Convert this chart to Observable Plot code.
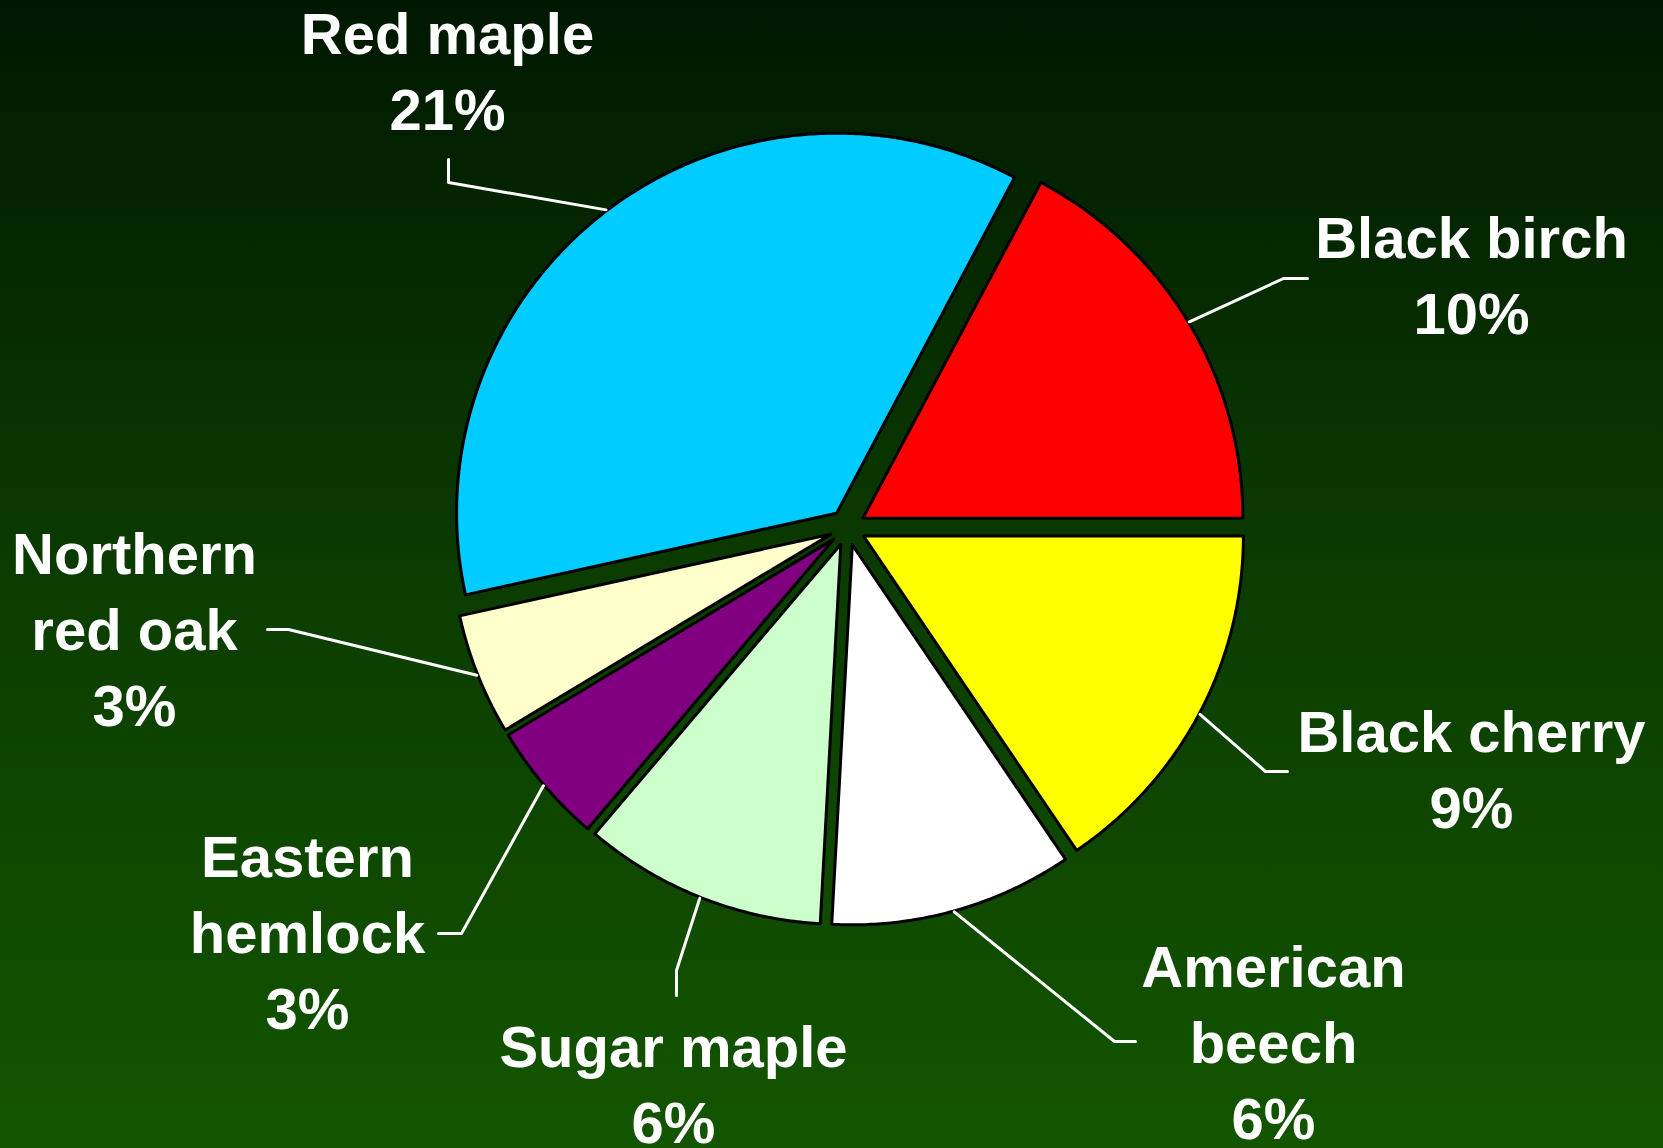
<!DOCTYPE html>
<html>
<head>
<meta charset="utf-8">
<script src="https://cdn.jsdelivr.net/npm/d3@7"></script>
<script src="https://cdn.jsdelivr.net/npm/@observablehq/plot@0.6"></script>
<style>
  html, body { margin: 0; padding: 0; overflow: hidden; background: #0a3500; }
  #chart {
    width: 1663px; height: 1148px;
    background: linear-gradient(to bottom, #001800 0%, #0b3c00 50%, #135500 100%);
  }
</style>
</head>
<body>
<div id="chart"></div>
<script>
// ---- data (clockwise from 3 o'clock) ----
const species = ["Black cherry", "American beech", "Sugar maple", "Eastern hemlock", "Northern red oak", "Red maple", "Black birch"];
const labelNames = ["Black cherry", "American\nbeech", "Sugar maple", "Eastern\nhemlock", "Northern\nred oak", "Red maple", "Black birch"];
const percents = [9, 6, 6, 3, 3, 21, 10];
const sliceColors = ["#FFFF00", "#FFFFFF", "#CCFFCC", "#800080", "#FFFFCC", "#00CCFF", "#FF0000"];

// ---- layout ----
const W = 1663, H = 1148;
const CX = 847, CY = 527, R = 380, EXPLODE = 18;
// label anchor (center x, baseline of last line) and leader elbow / end points
const labelLayout = [
  {tx: 1471, ty: 827,  elbow: [1265, 771], end: [1287, 771]},
  {tx: 1273, ty: 1138, elbow: [1114, 1041], end: [1135, 1041]},
  {tx: 673,  ty: 1142, elbow: [676, 970],  end: [676, 995]},
  {tx: 307,  ty: 1028, elbow: [461, 933],  end: [438, 933]},
  {tx: 134,  ty: 725,  elbow: [288, 629],  end: [267, 629]},
  {tx: 447,  ty: 129,  elbow: [448, 182],  end: [448, 159]},
  {tx: 1471, ty: 333,  elbow: [1283, 278], end: [1307, 278]}
];

const data = species.map((name, i) => ({name, value: percents[i], color: sliceColors[i], label: labelNames[i] + "\n" + percents[i] + "%", layout: labelLayout[i]}));

const arcs = d3.pie().sort(null).value(d => d.value)
  .startAngle(Math.PI / 2).endAngle(Math.PI / 2 + 2 * Math.PI)(data);

const pt = (ox, oy, a, r) => [ox + r * Math.sin(a), oy - r * Math.cos(a)];

const slicePts = [];
const leaderPts = [];
const labels = [];
for (const a of arcs) {
  const mid = (a.startAngle + a.endAngle) / 2;
  const [ox, oy] = pt(CX, CY, mid, EXPLODE);
  const name = a.data.name;
  const color = a.data.color;
  slicePts.push({name, color, x: ox, y: oy});
  const n = Math.max(2, Math.ceil((a.endAngle - a.startAngle) / (Math.PI / 360)));
  for (let k = 0; k <= n; ++k) {
    const ang = a.startAngle + (a.endAngle - a.startAngle) * k / n;
    const [x, y] = pt(ox, oy, ang, R);
    slicePts.push({name, color, x, y});
  }
  slicePts.push({name, color, x: ox, y: oy});

  const L = a.data.layout;
  const [sx, sy] = pt(ox, oy, mid, R + 1);
  leaderPts.push({name, x: sx, y: sy});
  leaderPts.push({name, x: L.elbow[0], y: L.elbow[1]});
  leaderPts.push({name, x: L.end[0], y: L.end[1]});

  labels.push({x: L.tx, y: L.ty, text: a.data.label});
}

const chart = Plot.plot({
  width: W,
  height: H,
  margin: 0,
  x: {domain: [0, W], range: [0, W], axis: null},
  y: {domain: [0, H], range: [0, H], axis: null},
  color: {type: "identity"},
  style: {background: "transparent", overflow: "visible"},
  marks: [
    Plot.line(slicePts, {x: "x", y: "y", z: "name", fill: "color", stroke: "#000", strokeWidth: 3, strokeLinejoin: "round", curve: "linear"}),
    Plot.line(leaderPts, {x: "x", y: "y", z: "name", stroke: "#fff", strokeWidth: 3, curve: "linear"}),
    Plot.text(labels, {
      x: "x", y: "y", text: "text",
      fill: "#fff", fontSize: 58, fontWeight: "bold",
      fontFamily: "'Liberation Sans', Arial, sans-serif",
      textAnchor: "middle", lineAnchor: "bottom", lineHeight: 1.31
    })
  ]
});
document.getElementById("chart").appendChild(chart);
</script>
</body>
</html>
